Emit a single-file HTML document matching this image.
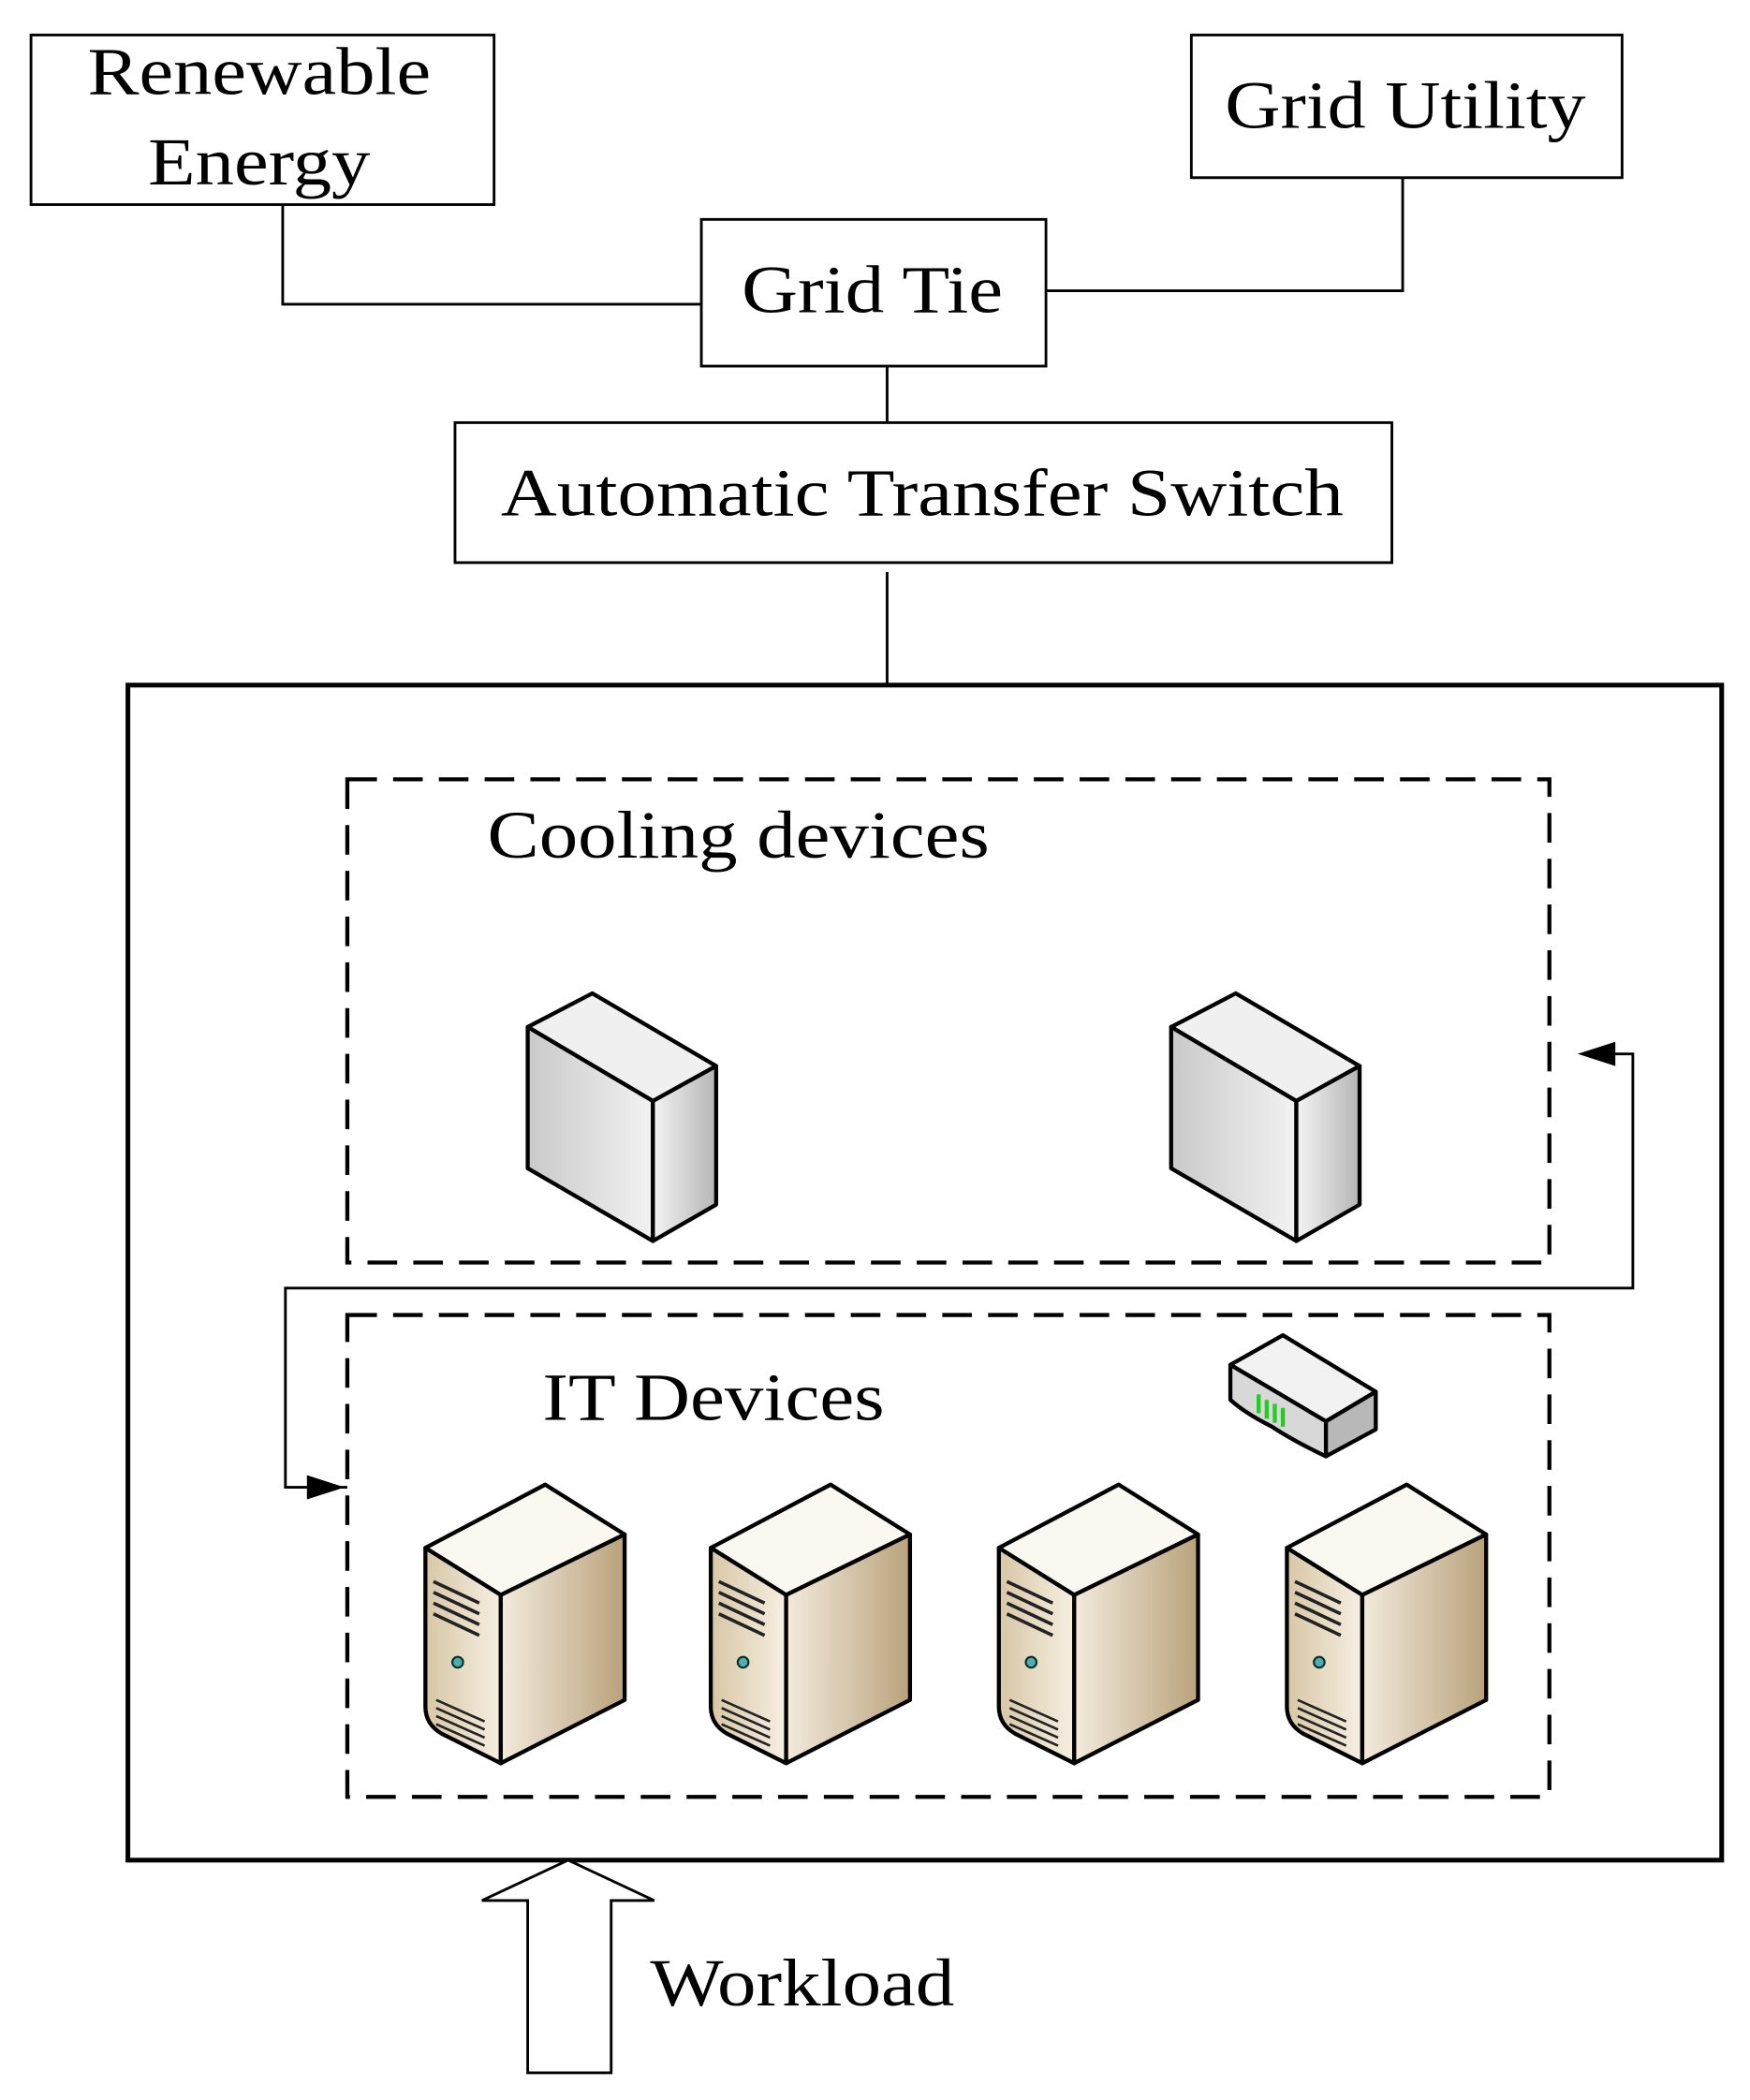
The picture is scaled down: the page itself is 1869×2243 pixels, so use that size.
<!DOCTYPE html>
<html><head><meta charset="utf-8"><style>html,body{margin:0;padding:0;background:#fff}svg{display:block}</style></head>
<body>
<svg width="1869" height="2243" viewBox="0 0 1300 1560.2" xmlns="http://www.w3.org/2000/svg" font-family="Liberation Serif, serif">
<defs>
<linearGradient id="gf" x1="0" x2="1"><stop offset="0" stop-color="#c9c9c9"/><stop offset="1" stop-color="#f2f2f2"/></linearGradient>
<linearGradient id="gr" x1="0" x2="1"><stop offset="0" stop-color="#f4f4f4"/><stop offset="1" stop-color="#b5b5b5"/></linearGradient>
<linearGradient id="sf" x1="0" x2="1"><stop offset="0" stop-color="#d8c7a6"/><stop offset="1" stop-color="#f6efe2"/></linearGradient>
<linearGradient id="sr" x1="0" x2="1"><stop offset="0" stop-color="#f3ebdc"/><stop offset="1" stop-color="#b9a27c"/></linearGradient>
<g id="cool">
<polygon points="0,25 48,0 140,54 93,80" fill="#f0f0f0" stroke="#000" stroke-width="3" stroke-linejoin="round"/>
<polygon points="0,25 93,80 93,184 0,130" fill="url(#gf)" stroke="#000" stroke-width="3" stroke-linejoin="round"/>
<polygon points="93,80 140,54 140,157 93,184" fill="url(#gr)" stroke="#000" stroke-width="3" stroke-linejoin="round"/>
</g>
<g id="srv">
<polygon points="0,47 89,0 148,37 56,82" fill="#fbf8f2" stroke="#000" stroke-width="3" stroke-linejoin="round"/>
<path d="M0,47 L56,82 L56,207 L12,185 Q0,178 0,165 Z" fill="url(#sf)" stroke="#000" stroke-width="3" stroke-linejoin="round"/>
<polygon points="56,82 148,37 148,160 56,207" fill="url(#sr)" stroke="#000" stroke-width="3" stroke-linejoin="round"/>
<path d="M6,72 L40,88 M6,80 L40,96 M6,88 L40,104 M6,96 L40,112" stroke="#222" stroke-width="2.5"/>
<circle cx="24" cy="132" r="4" fill="#5aa" stroke="#033" stroke-width="1.5"/>
<path d="M8,160 L44,176 M8,166 L44,182 M8,172 L44,188 M8,178 L44,194" stroke="#222" stroke-width="1.8"/>
</g>
</defs>
<g fill="none" stroke="#000" stroke-width="2">
<rect x="23" y="26" width="344" height="126"/>
<rect x="885" y="26" width="320" height="106"/>
<rect x="521" y="163" width="256" height="109"/>
<rect x="338" y="314" width="696" height="104"/>
<polyline points="210,152 210,226 521,226"/>
<polyline points="1042,132 1042,216 777,216"/>
<line x1="659" y1="272" x2="659" y2="314"/>
<line x1="659" y1="425" x2="659" y2="509"/>
<rect x="95" y="509" width="1184" height="873" stroke-width="3.5"/>
<rect x="258" y="579" width="893" height="359" stroke-width="3" stroke-dasharray="22,12"/>
<rect x="258" y="977" width="893" height="358" stroke-width="3" stroke-dasharray="22,12"/>
<polyline points="258,1105 212,1105 212,957 1213,957 1213,783 1185,783"/>
</g>
<polygon points="1172,783 1200,774 1200,792" fill="#000"/>
<polygon points="256,1105 228,1096 228,1114" fill="#000"/>
<polygon points="422,1382 486,1412 454,1412 454,1540 392,1540 392,1412 358,1412" fill="#fff" stroke="#000" stroke-width="2"/>
<g font-size="50" fill="#000">
<text x="65" y="70" textLength="255" lengthAdjust="spacingAndGlyphs">Renewable</text>
<text x="110" y="137" textLength="165" lengthAdjust="spacingAndGlyphs">Energy</text>
<text x="910" y="95" textLength="268" lengthAdjust="spacingAndGlyphs">Grid Utility</text>
<text x="551" y="232" textLength="194" lengthAdjust="spacingAndGlyphs">Grid Tie</text>
<text x="372" y="383" textLength="626" lengthAdjust="spacingAndGlyphs">Automatic Transfer Switch</text>
<text x="362" y="637" textLength="373" lengthAdjust="spacingAndGlyphs">Cooling devices</text>
<text x="403" y="1055" textLength="254" lengthAdjust="spacingAndGlyphs">IT Devices</text>
<text x="483" y="1490" textLength="226" lengthAdjust="spacingAndGlyphs">Workload</text>
</g>
<use href="#cool" x="392" y="738"/>
<use href="#cool" x="870" y="738"/>
<use href="#srv" x="316" y="1103"/>
<use href="#srv" x="528" y="1103"/>
<use href="#srv" x="742" y="1103"/>
<use href="#srv" x="956" y="1103"/>
<g stroke="#000" stroke-width="3" stroke-linejoin="round">
<polygon points="914,1014 953,992 1022,1034 985,1056" fill="#f2f2f2"/>
<path d="M914,1014 L985,1056 L985,1082 Q960,1070 945,1060 Q925,1050 914,1040 Z" fill="#d8d8d8"/>
<polygon points="985,1056 1022,1034 1022,1062 985,1082" fill="#b8b8b8"/>
</g>
<path d="M935,1036 L935,1050 M941,1040 L941,1054 M947,1043 L947,1057 M953,1046 L953,1060" stroke="#2c2" stroke-width="3"/>
</svg>
</body></html>
